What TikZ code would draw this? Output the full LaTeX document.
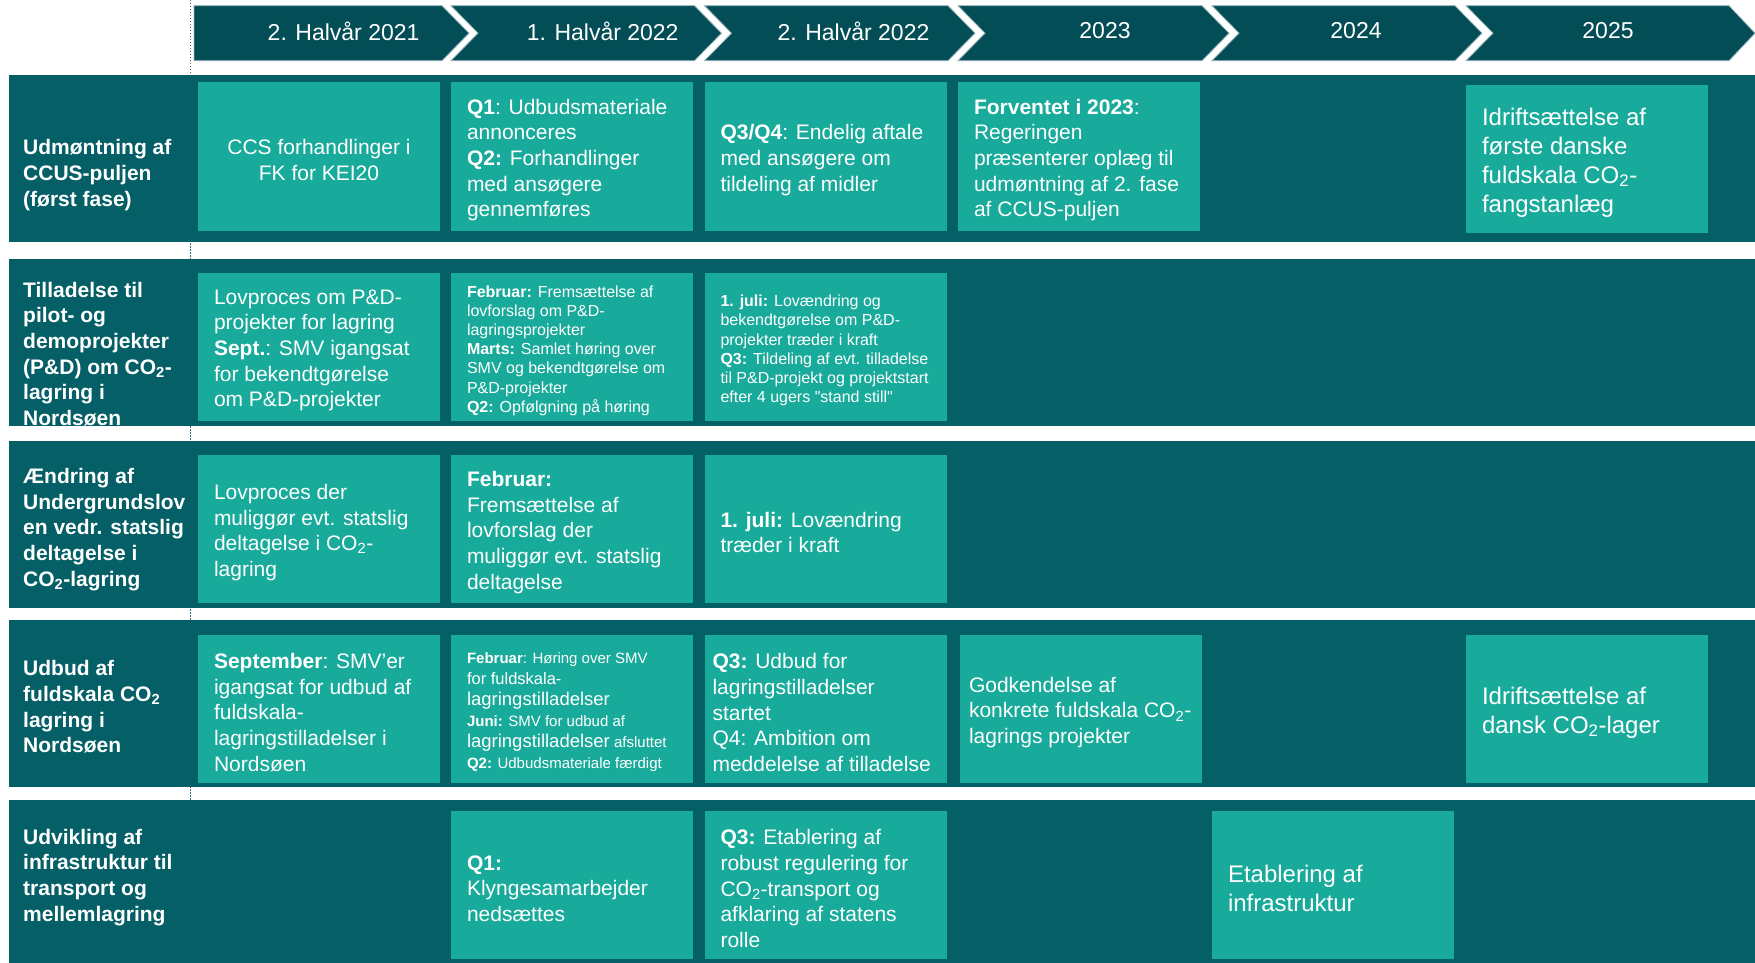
\documentclass[tikz,border=0pt]{standalone}
\usepackage{fontspec}
\setmainfont{Liberation Sans}[Ligatures=TeXOff]
\usetikzlibrary{positioning}

\definecolor{bar}{RGB}{3,78,86}
\definecolor{band}{RGB}{5,95,102}
\definecolor{cell}{RGB}{24,170,154}
\definecolor{edge}{RGB}{150,180,186}
\definecolor{dots}{RGB}{50,110,128}

\newcommand{\COto}{CO\textsubscript{2}}

\begin{document}
\begin{tikzpicture}[x=1pt,y=-1pt,
    chevron/.style={fill=bar,draw=edge,line width=0.8pt},
    yeartxt/.style={text=white,inner sep=0pt,font=\fontsize{23}{27}\selectfont},
    rowband/.style={fill=band},
    cellbox/.style={fill=cell,inner sep=0pt,minimum width=242pt,minimum height=148pt},
    celltxt/.style={text=white,align=left,inner sep=0pt,yshift=-3.5pt,font=\fontsize{21}{25.7}\selectfont},
    smalltxt/.style={celltxt,font=\fontsize{16}{19.2}\selectfont},
    largetxt/.style={celltxt,font=\fontsize{24}{29}\selectfont},
    rowtitle/.style={text=white,align=left,inner sep=0pt,anchor=west,yshift=-2.5pt,font=\bfseries\fontsize{21}{25.7}\selectfont}]

  \useasboundingbox (0,0) rectangle (1755,963);

    % linha pontilhada
  \draw[dots,line width=1.5pt,dash pattern=on 1.5pt off 1.5pt] (190.7,0) -- (190.7,800);

    % setas do tempo
  \draw[chevron] (194,5.7) -- (442,5.7) -- (469,33.2) -- (442,60.7) -- (194,60.7) -- cycle;
  \draw[chevron] (451,5.7) -- (694.5,5.7) -- (721.5,33.2) -- (694.5,60.7) -- (451,60.7) -- (478,33.2) -- cycle;
  \draw[chevron] (704.5,5.7) -- (948,5.7) -- (975,33.2) -- (948,60.7) -- (704.5,60.7) -- (731.5,33.2) -- cycle;
  \draw[chevron] (958,5.7) -- (1202,5.7) -- (1229,33.2) -- (1202,60.7) -- (958,60.7) -- (985,33.2) -- cycle;
  \draw[chevron] (1212,5.7) -- (1455,5.7) -- (1482,33.2) -- (1455,60.7) -- (1212,60.7) -- (1239,33.2) -- cycle;
  \draw[chevron] (1466,5.7) -- (1729,5.7) -- (1755,33.2) -- (1729,60.7) -- (1466,60.7) -- (1493,33.2) -- cycle;

  \node[yeartxt] (y1) at (343.6,31) {2. Halvår 2021};
  \node[yeartxt] (y2) at (602.7,31) {1. Halvår 2022};
  \node[yeartxt] (y3) at (853.5,31) {2. Halvår 2022};
  \node[yeartxt] (y4) at (1105,31) {2023};
  \node[yeartxt] (y5) at (1356,31) {2024};
  \node[yeartxt] (y6) at (1608,31) {2025};

    % faixas
  \fill[rowband] (9,75) rectangle (1755,242);
  \fill[rowband] (9,259) rectangle (1755,426);
  \fill[rowband] (9,441) rectangle (1755,608);
  \fill[rowband] (9,620) rectangle (1755,787);
  \fill[rowband] (9,800) rectangle (1755,963);

    % linha 1
  \node[rowtitle] (h1) at (23,172.7) {Udmøntning af\\CCUS-puljen\\(først fase)};
  \node[cellbox] (r1c1) at (319,156.5) {};
  \node[cellbox] (r1c2) at (572,156.5) {};
  \node[cellbox] (r1c3) at (825.5,156.5) {};
  \node[cellbox] (r1c4) at (1079,156.5) {};
  \node[cellbox] (r1c6) at (1587,159) {};
  \node[celltxt,align=center] (t1c1) at (r1c1) {CCS forhandlinger i\\FK for KEI20};
  \node[celltxt,right=16pt of r1c2.west] (t1c2) {\textbf{Q1}: Udbudsmateriale\\annonceres\\\textbf{Q2:} Forhandlinger\\med ansøgere\\gennemføres};
  \node[celltxt,right=16pt of r1c3.west] (t1c3) {\textbf{Q3/Q4}: Endelig aftale\\med ansøgere om\\tildeling af midler};
  \node[celltxt,right=16pt of r1c4.west] (t1c4) {\textbf{Forventet i 2023}:\\Regeringen\\præsenterer oplæg til\\udmøntning af 2. fase\\af CCUS-puljen};
  \node[largetxt,right=16pt of r1c6.west] (t1c6) {Idriftsættelse af\\første danske\\fuldskala \COto-\\fangstanlæg};

    % linha 2
  \node[rowtitle] (h2) at (23,351.5) {Tilladelse til\\pilot- og\\demoprojekter\\(P\&D) om \COto-\\lagring i\\Nordsøen};
  \node[cellbox] (r2c1) at (319,347) {};
  \node[cellbox] (r2c2) at (572,347) {};
  \node[cellbox] (r2c3) at (825.5,347) {};
  \node[celltxt,right=16pt of r2c1.west] (t2c1) {Lovproces om P\&D-\\projekter for lagring\\\textbf{Sept.}: SMV igangsat\\for bekendtgørelse\\om P\&D-projekter};
  \node[smalltxt,right=16pt of r2c2.west] (t2c2) {\textbf{Februar:} Fremsættelse af\\lovforslag om P\&D-\\lagringsprojekter\\\textbf{Marts:} Samlet høring over\\SMV og bekendtgørelse om\\P\&D-projekter\\\textbf{Q2:} Opfølgning på høring};
  \node[smalltxt,right=16pt of r2c3.west] (t2c3) {\textbf{1. juli:} Lovændring og\\bekendtgørelse om P\&D-\\projekter træder i kraft\\\textbf{Q3:} Tildeling af evt. tilladelse\\til P\&D-projekt og projektstart\\efter 4 ugers "stand still"};

    % linha 3
  \node[rowtitle] (h3) at (23,527) {Ændring af\\Undergrundslov\\en vedr. statslig\\deltagelse i\\\COto-lagring};
  \node[cellbox] (r3c1) at (319,529) {};
  \node[cellbox] (r3c2) at (572,529) {};
  \node[cellbox] (r3c3) at (825.5,529) {};
  \node[celltxt,right=16pt of r3c1.west] (t3c1) {Lovproces der\\muliggør evt. statslig\\deltagelse i \COto-\\lagring};
  \node[celltxt,right=16pt of r3c2.west] (t3c2) {\textbf{Februar:}\\Fremsættelse af\\lovforslag der\\muliggør evt. statslig\\deltagelse};
  \node[celltxt,right=16pt of r3c3.west] (t3c3) {\textbf{1. juli:} Lovændring\\træder i kraft};

    % linha 4
  \node[rowtitle] (h4) at (23,704.6) {Udbud af\\fuldskala \COto\\lagring i\\Nordsøen};
  \node[cellbox] (r4c1) at (319,709) {};
  \node[cellbox] (r4c2) at (572,709) {};
  \node[cellbox] (r4c3) at (825.5,709) {};
  \node[cellbox] (r4c4) at (1081,709) {};
  \node[cellbox] (r4c6) at (1587,709) {};
  \node[celltxt,right=16pt of r4c1.west] (t4c1) {\textbf{September}: SMV’er\\igangsat for udbud af\\fuldskala-\\lagringstilladelser i\\Nordsøen};
  \node[celltxt,font=\fontsize{15}{21}\selectfont,right=16pt of r4c2.west] (t4c2) {\textbf{Februar}: Høring over SMV\\{\fontsize{16.5}{21}\selectfont for fuldskala-}\\{\fontsize{18.5}{21}\selectfont lagringstilladelser}\\\textbf{Juni:} SMV for udbud af\\{\fontsize{18.5}{21}\selectfont lagringstilladelser} afsluttet\\\textbf{Q2:} Udbudsmateriale færdigt};
  \node[celltxt,right=8pt of r4c3.west] (t4c3) {\textbf{Q3:} Udbud for\\lagringstilladelser\\startet\\Q4: Ambition om\\meddelelse af tilladelse};
  \node[celltxt,right=9pt of r4c4.west] (t4c4) {Godkendelse af\\konkrete fuldskala \COto-\\lagrings projekter};
  \node[largetxt,right=16pt of r4c6.west] (t4c6) {Idriftsættelse af\\dansk \COto-lager};

    % linha 5
  \node[rowtitle] (h5) at (23,874.7) {Udvikling af\\infrastruktur til\\transport og\\mellemlagring};
  \node[cellbox] (r5c2) at (572,885) {};
  \node[cellbox] (r5c3) at (825.5,885) {};
  \node[cellbox] (r5c5) at (1333,885) {};
  \node[celltxt,right=16pt of r5c2.west] (t5c2) {\textbf{Q1:}\\Klyngesamarbejder\\nedsættes};
  \node[celltxt,right=16pt of r5c3.west] (t5c3) {\textbf{Q3:} Etablering af\\robust regulering for\\\COto-transport og\\afklaring af statens\\rolle};
  \node[largetxt,right=16pt of r5c5.west] (t5c5) {Etablering af\\infrastruktur};
\end{tikzpicture}
\end{document}
